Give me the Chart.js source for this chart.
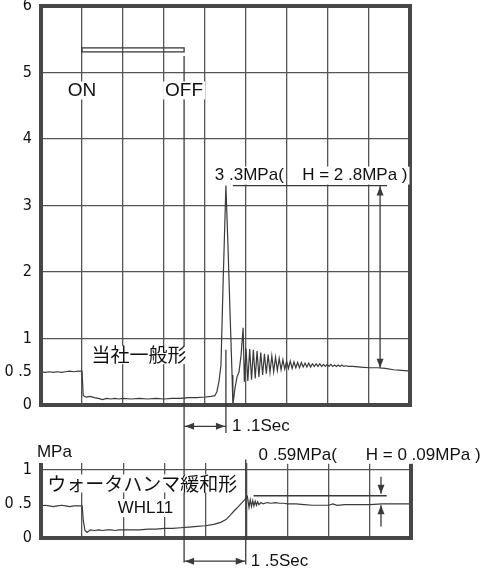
<!DOCTYPE html>
<html>
<head>
<meta charset="utf-8">
<script src="https://cdn.jsdelivr.net/npm/chart.js@4.4.1/dist/chart.umd.min.js"></script>
<style>
  body { margin: 0; background: #fff; }
  #wrap { position: relative; width: 488px; height: 571px; }
  canvas { position: absolute; left: 0; top: 0; }
</style>
</head>
<body>
<div id="wrap">
  <canvas id="topChart" width="488" height="571"></canvas>
  <canvas id="bottomChart" width="488" height="571"></canvas>
</div>
<script>
// tick labels
const topTickValues = [0, 0.5, 1, 2, 3, 4, 5, 6];
const topTickLabels = ['0', '0 .5', '1', '2', '3', '4', '5', '6'];
const bottomTickValues = [0, 0.5, 1];
const bottomTickLabels = ['0', '0 .5', '1'];

// 当社一般形 : time (s) / pressure (MPa)
const generalTime = [
  0, 0.1, 0.2, 0.3, 0.4, 0.5, 0.6, 0.7, 0.8, 0.9, 1.0,
  1.03, 1.1, 1.2, 1.3, 1.4, 1.5, 1.6, 1.7, 1.8, 1.9, 2.0, 2.2, 2.4, 2.6, 2.8,
  3.0, 3.2, 3.4, 3.6, 3.8, 4.0, 4.15, 4.24, 4.29, 4.34, 4.39, 4.44, 4.51,
  4.56, 4.61, 4.66, 4.68, 4.73, 4.78, 4.83, 4.88, 4.93, 4.96,
  5.0, 5.045, 5.09, 5.135, 5.18, 5.225, 5.27, 5.315, 5.36, 5.405,
  5.45, 5.495, 5.54, 5.585, 5.63, 5.675, 5.72, 5.765, 5.81, 5.855,
  5.9, 5.945, 5.99, 6.035, 6.08, 6.125, 6.17, 6.215, 6.26, 6.305,
  6.35, 6.395, 6.44, 6.485, 6.53, 6.575, 6.62, 6.665, 6.71, 6.755,
  6.8, 6.845, 6.89, 6.935, 6.98, 7.025, 7.07, 7.115, 7.16, 7.205,
  7.25, 7.295, 7.34, 7.385, 7.43, 7.5,
  7.6, 7.8, 8.0, 8.2, 8.4, 8.6, 8.8, 9.0
];
const generalPressure = [
  0.50, 0.49, 0.50, 0.49, 0.50, 0.49, 0.50, 0.51, 0.50, 0.51, 0.51,
  0.14, 0.12, 0.13, 0.11, 0.10, 0.08, 0.10, 0.09, 0.10, 0.09, 0.10, 0.09, 0.10, 0.09, 0.10,
  0.09, 0.10, 0.10, 0.11, 0.11, 0.12, 0.13, 0.14, 0.20, 0.35, 0.60, 1.80, 3.30,
  2.40, 1.40, 0.45, 0.00, 0.25, 0.42, 0.50, 0.75, 1.16, 0.35,
  0.85, 0.36, 0.84, 0.38, 0.83, 0.40, 0.81, 0.42, 0.79, 0.45,
  0.77, 0.47, 0.76, 0.49, 0.74, 0.50, 0.72, 0.52, 0.70, 0.53,
  0.68, 0.54, 0.66, 0.55, 0.66, 0.55, 0.65, 0.56, 0.64, 0.56,
  0.64, 0.57, 0.63, 0.57, 0.63, 0.57, 0.62, 0.58, 0.62, 0.58,
  0.62, 0.58, 0.61, 0.58, 0.61, 0.58, 0.61, 0.58, 0.60, 0.58,
  0.60, 0.58, 0.60, 0.58, 0.59, 0.58,
  0.58, 0.57, 0.56, 0.56, 0.55, 0.53, 0.52, 0.51
];

// ウォータハンマ緩和形 WHL11 : time (s) / pressure (MPa)
const whlTime = [
  0, 0.1, 0.2, 0.3, 0.4, 0.5, 0.6, 0.7, 0.8, 0.9, 1.0,
  1.03, 1.07, 1.12, 1.2, 1.3, 1.4, 1.5, 1.6, 1.7, 1.8, 1.9, 2.0, 2.2, 2.4, 2.6, 2.8,
  3.0, 3.2, 3.4, 3.6, 3.8, 4.0, 4.2, 4.37, 4.5, 4.61, 4.7, 4.8, 4.95, 5.02,
  5.06, 5.09, 5.12, 5.15, 5.18, 5.21, 5.24, 5.27, 5.3, 5.35, 5.4, 5.5,
  5.6, 5.7, 5.8, 5.9, 6.0, 6.2, 6.4, 6.6, 6.8, 7.0, 7.1, 7.2, 7.4, 7.6,
  7.8, 8.0, 8.3, 8.6, 9.0
];
const whlPressure = [
  0.47, 0.48, 0.47, 0.46, 0.47, 0.48, 0.47, 0.46, 0.47, 0.47, 0.47,
  0.25, 0.11, 0.08, 0.12, 0.11, 0.12, 0.11, 0.12, 0.12, 0.11, 0.12, 0.12, 0.12, 0.12, 0.13, 0.13,
  0.14, 0.14, 0.15, 0.16, 0.17, 0.18, 0.20, 0.23, 0.27, 0.34, 0.40, 0.46, 0.56, 0.61,
  0.45, 0.56, 0.46, 0.55, 0.47, 0.54, 0.48, 0.53, 0.49, 0.52, 0.50, 0.52,
  0.51, 0.52, 0.51, 0.51, 0.50, 0.50, 0.49, 0.48, 0.48, 0.48, 0.50, 0.48, 0.49, 0.49,
  0.49, 0.49, 0.50, 0.50, 0.50
];

// event times (s)
const onTime = 1.0;
const offTime = 3.49;
const generalPeakTime = 4.51;
const whlPeakTime = 4.98;

const lineColor = '#3a3a3a';
const gridColor = '#555';
const frameColor = '#474747';
const textColor = '#111';
const tickFont = { family: "'Liberation Sans Narrow', 'DejaVu Sans Condensed', sans-serif", size: 16 };
const labelFont = "17px 'Liberation Sans', Arial, sans-serif";
const bigFont = "19px 'Liberation Sans', Arial, sans-serif";
const cjkFont = "19px 'Noto Sans CJK JP', sans-serif";

function toPoints(xs, ys) {
  return xs.map((x, i) => ({ x: x, y: ys[i] }));
}

function chartOptions(yMax, tickValues, tickLabels, pad) {
  return {
    responsive: false,
    animation: false,
    events: [],
    layout: { padding: pad },
    plugins: { legend: { display: false }, tooltip: { enabled: false } },
    scales: {
      x: {
        type: 'linear', min: 0, max: 9,
        ticks: { display: false, stepSize: 1 },
        grid: {
          color: c => (c.tick.value > 0 && c.tick.value < 9) ? gridColor : 'rgba(0,0,0,0)',
          lineWidth: 1.3, drawTicks: false
        },
        border: { display: false },
        afterFit: axis => { axis.height = 0; axis.paddingLeft = 0; axis.paddingRight = 0; }
      },
      y: {
        type: 'linear', min: 0, max: yMax,
        afterBuildTicks: axis => { axis.ticks = tickValues.map(v => ({ value: v })); },
        ticks: {
          callback: (v, i) => tickLabels[i],
          font: tickFont, color: textColor, padding: 9
        },
        grid: {
          color: c => (c.tick.value >= 1 && c.tick.value < yMax - 0.05) ? gridColor : 'rgba(0,0,0,0)',
          lineWidth: 1.3, drawTicks: false
        },
        border: { display: false },
        afterFit: axis => { axis.width = 41; axis.paddingTop = 0; axis.paddingBottom = 0; }
      }
    }
  };
}

const framePlugin = {
  id: 'frame',
  afterDatasetsDraw(chart, args, opts) {
    const a = chart.chartArea;
    const ctx = chart.ctx;
    ctx.save();
    ctx.strokeStyle = frameColor;
    ctx.lineWidth = 4;
    ctx.beginPath();
    if (opts.closed) {
      ctx.rect(a.left, a.top, a.right - a.left, a.bottom - a.top);
    } else {
      ctx.moveTo(a.left, a.top);
      ctx.lineTo(a.left, a.bottom);
      ctx.lineTo(a.right, a.bottom);
      ctx.lineTo(a.right, a.top);
    }
    ctx.stroke();
    ctx.restore();
  }
};

function seg(ctx, x1, y1, x2, y2) {
  ctx.beginPath();
  ctx.moveTo(x1, y1);
  ctx.lineTo(x2, y2);
  ctx.stroke();
}

function arrowHead(ctx, x, y, dx, dy) {
  const len = 9, half = 3.5;
  const px = -dy, py = dx;
  ctx.beginPath();
  ctx.moveTo(x, y);
  ctx.lineTo(x - dx * len + px * half, y - dy * len + py * half);
  ctx.lineTo(x - dx * len - px * half, y - dy * len - py * half);
  ctx.closePath();
  ctx.fill();
}

function label(ctx, text, x, y, align, font) {
  ctx.font = font;
  const w = ctx.measureText(text).width;
  const left = align === 'center' ? x - w / 2 : x;
  ctx.fillStyle = '#fff';
  ctx.fillRect(left - 2, y - 9, w + 4, 18);
  ctx.fillStyle = textColor;
  ctx.textAlign = 'left';
  ctx.textBaseline = 'middle';
  ctx.fillText(text, left, y);
}

let topChart;

const overlayPlugin = {
  id: 'overlay',
  afterDraw(chart) {
    const ctx = chart.ctx;
    const tx = topChart.scales.x, ty = topChart.scales.y;
    const bx = chart.scales.x, by = chart.scales.y;
    ctx.save();
    ctx.strokeStyle = lineColor;
    ctx.fillStyle = lineColor;
    ctx.lineWidth = 1.3;

    // ON / OFF bar and OFF line
    ctx.strokeRect(tx.getPixelForValue(onTime), ty.getPixelForValue(5.37),
      tx.getPixelForValue(offTime) - tx.getPixelForValue(onTime), 4);
    const offX = tx.getPixelForValue(offTime);
    seg(ctx, offX, ty.getPixelForValue(5.25), offX, by.getPixelForValue(-0.36));

    // 当社一般形 peak
    const pk = ty.getPixelForValue(3.3);
    seg(ctx, tx.getPixelForValue(4.68), pk, tx.getPixelForValue(8.44), pk);
    const ax = tx.getPixelForValue(8.27);
    const settle = ty.getPixelForValue(0.56);
    seg(ctx, ax, pk, ax, settle);
    arrowHead(ctx, ax, pk + 1, 0, -1);
    arrowHead(ctx, ax, settle, 0, 1);

    // 1.1 Sec
    const p1 = tx.getPixelForValue(generalPeakTime);
    seg(ctx, p1, ty.getPixelForValue(0.83), p1, ty.getPixelForValue(-0.42));
    const ay1 = ty.getPixelForValue(-0.32);
    seg(ctx, offX, ay1, p1, ay1);
    arrowHead(ctx, offX + 1, ay1, -1, 0);
    arrowHead(ctx, p1 - 1, ay1, 1, 0);

    // WHL peak level
    const ref = by.getPixelForValue(0.62);
    seg(ctx, bx.getPixelForValue(5.17), ref, bx.getPixelForValue(8.41), ref);
    const bax = bx.getPixelForValue(8.27);
    seg(ctx, bax, by.getPixelForValue(0.9), bax, ref - 2);
    arrowHead(ctx, bax, ref - 2, 0, 1);
    const lvl = by.getPixelForValue(0.48);
    seg(ctx, bax, by.getPixelForValue(0.17), bax, lvl);
    arrowHead(ctx, bax, lvl, 0, -1);

    // 1.5 Sec
    const p2 = bx.getPixelForValue(whlPeakTime);
    seg(ctx, p2, by.getPixelForValue(1.15), p2, by.getPixelForValue(-0.39));
    const ay2 = by.getPixelForValue(-0.34);
    seg(ctx, offX, ay2, p2, ay2);
    arrowHead(ctx, offX + 1, ay2, -1, 0);
    arrowHead(ctx, p2 - 1, ay2, 1, 0);

    // texts
    label(ctx, 'ON', tx.getPixelForValue(onTime), ty.getPixelForValue(4.73), 'center', bigFont);
    label(ctx, 'OFF', offX, ty.getPixelForValue(4.73), 'center', bigFont);
    label(ctx, '当社一般形', tx.getPixelForValue(2.39), ty.getPixelForValue(0.75), 'center', cjkFont);
    label(ctx, '3 .3MPa(', tx.getPixelForValue(4.24), ty.getPixelForValue(3.45), 'left', labelFont);
    label(ctx, 'H = 2 .8MPa )', tx.getPixelForValue(6.37), ty.getPixelForValue(3.45), 'left', labelFont);
    label(ctx, '1 .1Sec', tx.getPixelForValue(4.66), ay1, 'left', labelFont);
    label(ctx, 'MPa', bx.getPixelForValue(-0.1), by.getPixelForValue(1.25), 'left', labelFont);
    label(ctx, '0 .59MPa(', bx.getPixelForValue(5.29), by.getPixelForValue(1.22), 'left', labelFont);
    label(ctx, 'H = 0 .09MPa )', bx.getPixelForValue(7.9), by.getPixelForValue(1.22), 'left', labelFont);
    label(ctx, 'ウォータハンマ緩和形', bx.getPixelForValue(2.46), by.getPixelForValue(0.8), 'center', cjkFont);
    label(ctx, 'WHL11', bx.getPixelForValue(2.54), by.getPixelForValue(0.44), 'center', labelFont);
    label(ctx, '1 .5Sec', bx.getPixelForValue(5.1), ay2, 'left', labelFont);
    ctx.restore();
  }
};

function lineDataset(points) {
  return {
    data: points,
    borderColor: lineColor,
    borderWidth: 1.2,
    pointRadius: 0,
    tension: 0,
    fill: false
  };
}

const topOpts = chartOptions(6, topTickValues, topTickLabels, { left: 0, top: 6, right: 78, bottom: 166 });
topOpts.plugins.frame = { closed: true };
topChart = new Chart(document.getElementById('topChart'), {
  type: 'line',
  data: { datasets: [lineDataset(toPoints(generalTime, generalPressure))] },
  options: topOpts,
  plugins: [framePlugin]
});

const bottomOpts = chartOptions(1.1, bottomTickValues, bottomTickLabels, { left: 0, top: 463, right: 77, bottom: 33 });
bottomOpts.plugins.frame = { closed: false };
new Chart(document.getElementById('bottomChart'), {
  type: 'line',
  data: { datasets: [lineDataset(toPoints(whlTime, whlPressure))] },
  options: bottomOpts,
  plugins: [framePlugin, overlayPlugin]
});
</script>
</body>
</html>
